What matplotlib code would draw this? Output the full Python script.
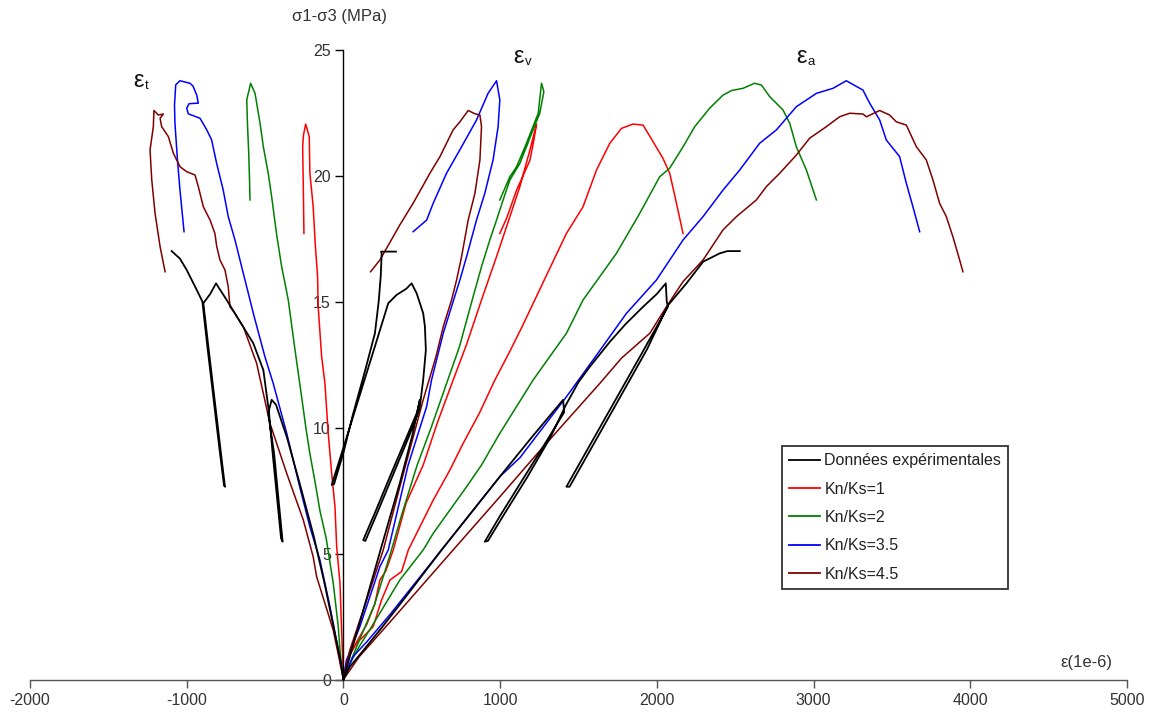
import matplotlib
matplotlib.use("Agg")
import matplotlib.pyplot as plt
from matplotlib.lines import Line2D

plt.rcParams['font.family'] = ['Liberation Sans', 'DejaVu Sans']

# ---------------- data (strain in 1e-6, stress sigma1-sigma3 in MPa) ----------------
# Kn/Ks = 1 (red)
kn1_ea_x = [0, 20, 84, 148, 190, 243, 297, 371, 414, 467, 573, 679, 764, 870, 966, 1060, 1140, 1221, 1317, 1423, 1529, 1615, 1700, 1774, 1848, 1912, 1976, 2039, 2082, 2125, 2167]
kn1_ea_y = [0, 0.77, 1.44, 1.83, 2.1, 3.15, 3.95, 4.28, 5.14, 5.8, 7.12, 8.31, 9.37, 10.6, 11.88, 13.0, 14.0, 15.06, 16.32, 17.7, 18.76, 20.22, 21.28, 21.87, 22.04, 22.0, 21.34, 20.68, 20.09, 18.9, 17.7]
kn1_et_x = [0, -11, -22, -43, -54, -75, -97, -118, -139, -161, -165, -180, -193, -214, -218, -241, -255, -260, -256, -252]
kn1_et_y = [0, 1.83, 3.82, 5.27, 6.86, 8.18, 9.77, 11.75, 12.81, 14.79, 16.0, 17.3, 18.76, 20.09, 21.54, 22.04, 21.6, 21.14, 19.5, 17.7]
kn1_ev_x = [0, 25, 85, 150, 200, 233, 270, 318, 400, 509, 600, 700, 786, 881, 977, 1041, 1126, 1190, 1232, 1215, 1190, 1105, 1041, 998]
kn1_ev_y = [0, 0.8, 1.5, 2.2, 3.0, 3.95, 4.3, 5.14, 7.0, 8.51, 10.2, 11.88, 13.3, 15.06, 16.78, 17.97, 19.56, 21.01, 22.04, 21.4, 20.6, 19.42, 18.3, 17.7]

# Kn/Ks = 2 (green)
kn2_ea_x = [0, 30, 100, 200, 360, 509, 573, 786, 881, 998, 1210, 1423, 1529, 1742, 1891, 2018, 2082, 2167, 2242, 2337, 2422, 2476, 2550, 2624, 2667, 2720, 2805, 2848, 2890, 2954, 3018]
kn2_ea_y = [0, 0.5, 1.3, 2.3, 3.95, 5.14, 5.8, 7.65, 8.51, 9.77, 11.88, 13.74, 15.06, 16.91, 18.5, 19.95, 20.29, 21.14, 21.94, 22.67, 23.19, 23.37, 23.46, 23.66, 23.59, 23.13, 22.6, 22.07, 21.14, 20.22, 19.03]
kn2_et_x = [0, -20, -33, -65, -110, -150, -180, -215, -240, -262, -280, -309, -352, -394, -425, -458, -480, -511, -532, -564, -592, -617, -612, -605, -600, -596]
kn2_et_y = [0, 1.0, 2.1, 3.82, 5.6, 6.7, 7.8, 9.0, 10.0, 11.0, 11.8, 13.08, 15.06, 16.38, 17.6, 19.16, 20.09, 21.14, 22.07, 23.26, 23.66, 23.0, 22.0, 21.0, 20.0, 19.03]
kn2_ev_x = [0, 84, 200, 300, 370, 470, 560, 650, 740, 828, 881, 934, 977, 1019, 1062, 1126, 1168, 1210, 1253, 1279, 1264, 1243, 1168, 1105, 1062, 998]
kn2_ev_y = [0, 1.3, 3.0, 5.0, 6.5, 8.5, 10.0, 11.6, 13.2, 15.2, 16.38, 17.44, 18.23, 19.03, 19.82, 20.48, 21.14, 21.81, 22.47, 23.33, 23.66, 22.47, 21.28, 20.35, 19.95, 19.03]

# Kn/Ks = 3.5 (blue)
kn35_ea_x = [0, 60, 150, 300, 626, 998, 1126, 1423, 1593, 1806, 1997, 2167, 2295, 2422, 2529, 2656, 2763, 2890, 3018, 3124, 3209, 3315, 3358, 3422, 3464, 3549, 3592, 3634, 3677]
kn35_ea_y = [0, 0.9, 1.5, 2.6, 5.14, 8.05, 8.8, 11.22, 12.68, 14.53, 15.85, 17.44, 18.37, 19.42, 20.22, 21.28, 21.81, 22.73, 23.26, 23.46, 23.76, 23.39, 22.87, 22.2, 21.41, 20.75, 19.69, 18.76, 17.77]
kn35_et_x = [0, -33, -86, -150, -214, -277, -362, -448, -501, -575, -607, -639, -692, -735, -767, -809, -841, -872, -915, -990, -1000, -985, -926, -936, -960, -979, -1043, -1070, -1078, -1075, -1060, -1043, -1017]
kn35_et_y = [0, 1.17, 2.89, 4.74, 6.06, 7.6, 9.77, 11.75, 12.81, 14.53, 15.33, 16.12, 17.44, 18.37, 19.42, 20.48, 21.41, 21.81, 22.27, 22.45, 22.67, 22.85, 22.87, 23.19, 23.55, 23.66, 23.76, 23.6, 22.8, 22.07, 20.7, 19.42, 17.77]
kn35_ev_x = [0, 20, 105, 233, 286, 413, 531, 562, 637, 700, 743, 786, 849, 902, 955, 987, 998, 977, 923, 849, 754, 658, 573, 531, 445]
kn35_ev_y = [0, 0.77, 2.1, 4.48, 5.14, 8.51, 10.83, 11.88, 13.74, 15.0, 15.85, 16.78, 18.23, 19.29, 20.62, 21.94, 23.0, 23.76, 23.26, 22.2, 21.14, 20.09, 18.9, 18.23, 17.77]

# Kn/Ks = 4.5 (dark red)
kn45_ea_x = [0, 100, 300, 700, 998, 1242, 1636, 1774, 1955, 2061, 2167, 2295, 2422, 2508, 2635, 2699, 2784, 2890, 2975, 3082, 3166, 3230, 3315, 3337, 3422, 3485, 3528, 3592, 3656, 3719, 3762, 3804, 3847, 3889, 3932, 3953]
kn45_ea_y = [0, 0.9, 2.3, 5.14, 7.25, 9.0, 11.75, 12.75, 13.74, 14.79, 15.79, 16.65, 17.84, 18.37, 19.03, 19.56, 20.09, 20.81, 21.48, 21.94, 22.33, 22.47, 22.44, 22.33, 22.58, 22.4, 22.13, 22.0, 21.14, 20.62, 19.82, 18.9, 18.37, 17.57, 16.65, 16.18]
kn45_et_x = [0, -65, -171, -193, -256, -362, -469, -554, -639, -700, -724, -735, -756, -788, -809, -820, -851, -894, -926, -947, -1000, -1043, -1085, -1117, -1160, -1170, -1149, -1181, -1209, -1213, -1234, -1223, -1202, -1170, -1138]
kn45_et_y = [0, 1.96, 4.08, 4.87, 6.33, 8.18, 10.17, 12.55, 14.0, 14.6, 14.79, 15.59, 16.25, 16.65, 17.2, 17.7, 18.23, 18.76, 19.56, 20.02, 20.15, 20.35, 20.88, 21.54, 21.94, 22.27, 22.44, 22.4, 22.58, 21.94, 21.01, 19.82, 18.5, 17.18, 16.18]
kn45_ev_x = [0, 41, 148, 254, 360, 509, 590, 637, 690, 722, 754, 796, 839, 871, 881, 871, 839, 796, 743, 700, 616, 552, 445, 360, 233, 173]
kn45_ev_y = [0, 1.17, 3.15, 5.14, 7.65, 11.1, 12.8, 14.0, 15.06, 15.85, 16.78, 18.23, 19.29, 20.62, 21.94, 22.4, 22.45, 22.58, 22.13, 21.81, 20.75, 20.09, 18.9, 18.04, 16.65, 16.18]

# Experimental data (black), cyclic loading
exp_ea_x = [0, 40, 120, 250, 400, 626, 800, 998, 1200, 1402, 1408, 1300, 1150, 1000, 902, 922, 1020, 1170, 1320, 1420, 1500, 1572, 1700, 1800, 1912, 2000, 2057, 2063, 2071, 1900, 1700, 1500, 1423, 1443, 1520, 1738, 1937, 2071, 2189, 2295, 2401, 2450, 2529]
exp_ea_y = [0, 0.5, 1.1, 2.1, 3.3, 5.14, 6.5, 8.05, 9.6, 11.1, 10.6, 9.5, 8.0, 6.5, 5.47, 5.5, 6.5, 8.0, 9.6, 10.9, 11.8, 12.41, 13.4, 14.1, 14.79, 15.3, 15.72, 15.0, 14.8, 12.9, 10.7, 8.5, 7.65, 7.65, 8.5, 10.9, 13.1, 14.85, 15.72, 16.58, 16.91, 17.0, 17.0]
exp_et_x = [0, -20, -60, -120, -190, -280, -360, -430, -458, -480, -443, -415, -388, -398, -425, -452, -475, -511, -575, -660, -745, -813, -850, -894, -858, -820, -782, -756, -762, -792, -830, -868, -900, -936, -1000, -1043, -1096]
exp_et_y = [0, 0.8, 2.0, 3.8, 5.7, 7.8, 9.6, 10.9, 11.1, 10.56, 9.0, 7.2, 5.47, 5.6, 7.3, 9.0, 10.6, 12.28, 13.34, 14.2, 15.06, 15.72, 15.3, 14.93, 13.0, 11.0, 9.0, 7.65, 7.7, 9.2, 11.2, 13.2, 15.0, 15.46, 16.25, 16.7, 17.0]
exp_ev_x = [0, 40, 120, 244, 360, 440, 488, 470, 400, 300, 200, 126, 140, 215, 315, 415, 485, 509, 526, 520, 509, 467, 435, 400, 339, 286, 200, 100, 0, -75, -60, 0, 60, 140, 201, 225, 238, 244, 240, 335]
exp_ev_y = [0, 0.9, 2.6, 5.3, 7.8, 9.7, 11.1, 10.6, 9.57, 8.1, 6.6, 5.53, 5.5, 6.6, 8.1, 9.6, 10.7, 11.9, 13.07, 14.0, 14.53, 15.33, 15.72, 15.5, 15.26, 14.93, 13.2, 11.2, 9.2, 7.72, 7.75, 9.0, 10.5, 12.3, 13.74, 15.0, 16.0, 16.9, 16.98, 16.98]

legend_labels = ['Données expérimentales', 'Kn/Ks=1', 'Kn/Ks=2', 'Kn/Ks=3.5', 'Kn/Ks=4.5']
series_colors = ['#000000', '#FF0000', '#008000', '#0000FF', '#800000']
x_ticks = [-2000, -1000, 0, 1000, 2000, 3000, 4000, 5000]
y_ticks = [0, 5, 10, 15, 20, 25]

# ---------------- figure ----------------
W, H = 1149, 717
fig = plt.figure(figsize=(W / 100, H / 100), dpi=100)
ax = fig.add_axes([30 / W, (H - 679.5) / H, (1127 - 30) / W, (679.5 - 49.5) / H])
ax.set_xlim(-2000, 5000)
ax.set_ylim(0, 25)

models = [
    (kn1_ea_x, kn1_ea_y, kn1_et_x, kn1_et_y, kn1_ev_x, kn1_ev_y),
    (kn2_ea_x, kn2_ea_y, kn2_et_x, kn2_et_y, kn2_ev_x, kn2_ev_y),
    (kn35_ea_x, kn35_ea_y, kn35_et_x, kn35_et_y, kn35_ev_x, kn35_ev_y),
    (kn45_ea_x, kn45_ea_y, kn45_et_x, kn45_et_y, kn45_ev_x, kn45_ev_y),
]
for col, m in zip(series_colors[1:], models):
    for i in range(0, 6, 2):
        ax.plot(m[i], m[i + 1], color=col, lw=1.1, solid_joinstyle='round', clip_on=False, zorder=2)

for xs, ys in [(exp_ea_x, exp_ea_y), (exp_et_x, exp_et_y), (exp_ev_x, exp_ev_y)]:
    ax.plot(xs, ys, color='black', lw=1.3, solid_joinstyle='round', clip_on=False, zorder=3)

# axes styling
for s in ['top', 'right']:
    ax.spines[s].set_visible(False)
ax.spines['left'].set_position(('data', 0))
ax.spines['left'].set_color('#000000')
ax.spines['left'].set_linewidth(1.0)
ax.spines['bottom'].set_color('#555555')
ax.spines['bottom'].set_linewidth(1.0)
ax.set_xticks(x_ticks)
ax.set_yticks(y_ticks)
ax.set_xticklabels([str(t) for t in x_ticks])
ax.set_yticklabels([str(t) for t in y_ticks])
ax.tick_params(axis='x', direction='out', length=6, width=1.0, color='#555555',
               labelsize=11.5, labelcolor='#333333', pad=4)
ax.tick_params(axis='y', direction='out', length=6, width=1.0, color='#000000',
               labelsize=11.5, labelcolor='#333333', pad=3)

# axis titles
fig.text(340 / W, 1 - 17 / H, 'σ1-σ3 (MPa)', ha='center', va='center', fontsize=12, color='#333333')
fig.text(1112 / W, 1 - 662 / H, 'ε(1e-6)', ha='right', va='center', fontsize=12, color='#333333')

# strain annotations
for sym, sub, x, y in [('ε', 't', -1340, 23.75), ('ε', 'v', 1085, 24.7), ('ε', 'a', 2890, 24.7)]:
    ax.text(x, y, sym, fontsize=17, ha='left', va='center', color='#111111')
    ax.text(x + 72, y - 0.2, sub, fontsize=9.5, ha='left', va='center', color='#111111')

# legend
handles = [Line2D([0], [0], color=c, lw=1.3) for c in series_colors]
leg = fig.legend(handles, legend_labels, loc='upper left',
                 bbox_to_anchor=(782 / W, 1 - 446 / H), fontsize=11.5,
                 frameon=True, fancybox=False, framealpha=1, edgecolor='#333333',
                 handlelength=1.95, handletextpad=0.25, labelspacing=0.84,
                 borderpad=0.45, borderaxespad=0)
leg.get_frame().set_linewidth(1.3)
for t in leg.get_texts():
    t.set_color('#222222')

fig.savefig('out.png', dpi=100)
